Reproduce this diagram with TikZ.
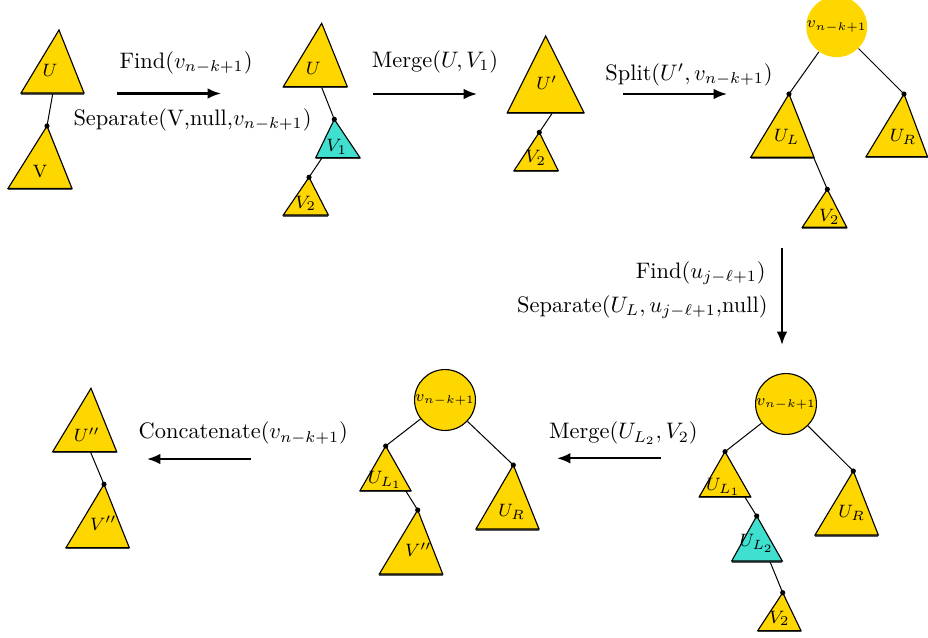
\documentclass[tikz,border=0pt]{standalone}
\usetikzlibrary{arrows.meta}
\definecolor{tgold}{HTML}{FFD700}
\definecolor{tturq}{HTML}{40E0D0}
\tikzset{
  tri/.style={draw=black, line width=0.5pt, line join=miter},
  lab/.style={inner sep=0pt, font=\footnotesize},
  edge/.style={draw=black, line width=0.45pt},
  circ/.style={circle, fill=tgold, inner sep=0pt, font=\scriptsize},
  op/.style={line width=1pt, -{Latex[length=6pt,width=4.8pt]}},
  optext/.style={inner sep=0pt},
  shade/.style={draw=black!65, line width=0.9pt},
}
% #1 name, #2 apex x, #3 apex y, #4 base left x, #5 base right x, #6 base y, #7 fill, #8 label pos, #9 label
\newcommand\mytri[9]{%
  \coordinate (#1) at (#2,#3);
  \draw[shade] (#4,#6+0.6) -- (#5,#6+0.6);
  \filldraw[tri, fill=#7] (#1) -- (#4,#6) -- (#5,#6) -- cycle;
  \node[lab] (#1-l) at (#8) {#9};
}
\newcommand\mydot[1]{\fill (#1) circle (1.15pt);}
\begin{document}
\begin{tikzpicture}[x=0.446pt, y=-0.446pt]
\useasboundingbox (0,0) rectangle (928,637);

% ---------- top left ----------
\mytri{Ua}{59}{30}{21}{84}{93}{tgold}{50,70}{$U$}
\mytri{Va}{47}{126}{8}{72}{188.5}{tgold}{40,172}{V}
\coordinate (Uas) at (52.7,94);
\draw[edge] (Uas) -- (Va); \mydot{Va}

% arrow 1
\coordinate (a1s) at (117,93.5); \coordinate (a1e) at (221,93.5);
\draw[op] (a1s) -- (a1e);
\node[optext] (t1) at (186,63) {Find($v_{n-k+1}$)};
\node[optext] (t2) at (192.5,120) {Separate(V,null,$v_{n-k+1}$)};

% ---------- top middle ----------
\mytri{Ub}{321.7}{23.3}{283.3}{347.3}{86.7}{tgold}{313.3,68.3}{$U$}
\mytri{Vb}{334.3}{119.3}{315.7}{360}{157.7}{tturq}{336.7,146.7}{$V_1$}
\mytri{Wb}{309}{177.3}{283.3}{328.3}{215}{tgold}{305.7,203.3}{$V_2$}
\coordinate (Ubs) at (321.7,87.5);
\coordinate (Vbs) at (321.7,158.3);
\draw[edge] (Ubs) -- (Vb); \mydot{Vb}
\draw[edge] (Vbs) -- (Wb); \mydot{Wb}

% arrow 2
\coordinate (a2s) at (373,94); \coordinate (a2e) at (477,94);
\draw[op] (a2s) -- (a2e);
\node[optext] (t3) at (435,61.7) {Merge($U, V_1$)};

% ---------- U' ----------
\mytri{Uc}{545.7}{36}{507.3}{584}{112.7}{tgold}{546.7,82.7}{$U'$}
\mytri{Wc}{539.3}{132.3}{514}{558.3}{170.7}{tgold}{535.7,158}{$V_2$}
\coordinate (Ucs) at (552,113.5);
\draw[edge] (Ucs) -- (Wc); \mydot{Wc}

% arrow 3
\coordinate (a3s) at (623,94); \coordinate (a3e) at (727,94);
\draw[op] (a3s) -- (a3e);
\node[optext] (t4) at (689,75) {Split($U', v_{n-k+1}$)};

% ---------- top right ----------
\node[circ, minimum size=24.5pt] (Cd) at (836.7,26.7) {$v_{n-k+1}$};
\mytri{Ld}{789}{94}{750.7}{814}{157.3}{tgold}{786.7,136.7}{$U_L$}
\mytri{Rd}{904}{94}{866}{927.5}{156.7}{tgold}{903,136.7}{$U_R$}
\mytri{Wd}{827.3}{189.3}{802.3}{846.7}{227.3}{tgold}{829.3,216.7}{$V_2$}
\draw[edge] (Cd) -- (Ld); \mydot{Ld}
\draw[edge] (Cd) -- (Rd); \mydot{Rd}
\coordinate (Lds) at (814,158.3);
\draw[edge] (Lds) -- (Wd); \mydot{Wd}

% vertical arrow
\coordinate (a4s) at (782,248); \coordinate (a4e) at (782,345);
\draw[op] (a4s) -- (a4e);
\node[optext, anchor=east] (t5) at (766,273) {Find($u_{j-\ell+1}$)};
\node[optext, anchor=east] (t6) at (768,307) {Separate($U_L, u_{j-\ell+1}$,null)};

% ---------- bottom right ----------
\node[circ, draw=black, line width=0.5pt, minimum size=24.5pt] (Ce) at (786,404) {$v_{n-k+1}$};
\mytri{Le}{725}{451.7}{699.3}{750.7}{496.7}{tgold}{723.3,486.7}{$U_{L_1}$}
\mytri{Re}{853.3}{471}{815}{878.3}{535}{tgold}{851.7,513.3}{$U_R$}
\mytri{Me}{756.7}{516}{731.7}{782.3}{561}{tturq}{756.7,543.3}{$U_{L_2}$}
\mytri{We}{782.7}{592.7}{757.7}{801}{630.7}{tgold}{779.3,618.3}{$V_2$}
\draw[edge] (Ce) -- (Le); \mydot{Le}
\draw[edge] (Ce) -- (Re); \mydot{Re}
\coordinate (Les) at (745,497.3);
\coordinate (Mes) at (770,561.7);
\draw[edge] (Les) -- (Me); \mydot{Me}
\draw[edge] (Mes) -- (We); \mydot{We}

% arrow 5
\coordinate (a5s) at (661,458.3); \coordinate (a5e) at (557,458.3);
\draw[op] (a5s) -- (a5e);
\node[optext] (t7) at (623.3,433.3) {Merge($U_{L_2}, V_2$)};

% ---------- bottom middle ----------
\node[circ, draw=black, line width=0.5pt, minimum size=23pt] (Cf) at (445,400) {$v_{n-k+1}$};
\mytri{Lf}{385.7}{446}{360}{411}{490.7}{tgold}{385,480}{$U_{L_1}$}
\mytri{Rf}{513.3}{465}{476}{539}{529}{tgold}{511.7,511.7}{$U_R$}
\mytri{Vf}{417.7}{510}{379.3}{442.7}{574}{tgold}{418.3,550}{$V''$}
\draw[edge] (Cf) -- (Lf); \mydot{Lf}
\draw[edge] (Cf) -- (Rf); \mydot{Rf}
\coordinate (Lfs) at (406,491.3);
\draw[edge] (Lfs) -- (Vf); \mydot{Vf}

% arrow 6
\coordinate (a6s) at (251,459); \coordinate (a6e) at (147,459);
\draw[op] (a6s) -- (a6e);
\node[optext] (t8) at (243.3,433.3) {Concatenate($v_{n-k+1}$)};

% ---------- bottom left ----------
\mytri{Ug}{91}{388.3}{52.7}{116.7}{451.7}{tgold}{86.7,435}{$U''$}
\mytri{Vg}{104}{484.3}{66}{129.3}{547.7}{tgold}{103.3,523.3}{$V''$}
\coordinate (Ugs) at (90.7,452.5);
\draw[edge] (Ugs) -- (Vg); \mydot{Vg}
\end{tikzpicture}
\end{document}
